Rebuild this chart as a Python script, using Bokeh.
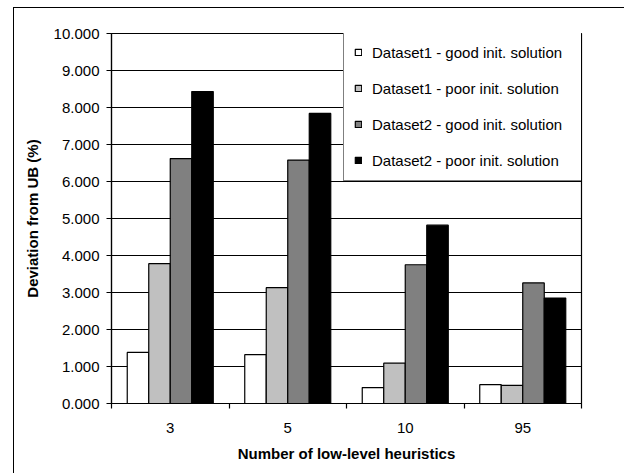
from bokeh.plotting import figure
from bokeh.layouts import column
from bokeh.models import (ColumnDataSource, Range1d, FixedTicker, Legend, LegendItem,
                          CustomJSTickFormatter)
from bokeh.embed import file_html
from bokeh.resources import INLINE

categories = ["3", "5", "10", "95"]
d1_good = [1.38, 1.32, 0.43, 0.51]
d1_poor = [3.78, 3.13, 1.09, 0.49]
d2_good = [6.62, 6.58, 3.75, 3.26]
d2_poor = [8.43, 7.84, 4.82, 2.85]
series_names = ["Dataset1 - good init. solution", "Dataset1 - poor init. solution",
                "Dataset2 - good init. solution", "Dataset2 - poor init. solution"]
series_values = [d1_good, d1_poor, d2_good, d2_poor]
colors = ["#FFFFFF", "#C0C0C0", "#808080", "#000000"]
y_ticks = [0, 1, 2, 3, 4, 5, 6, 7, 8, 9, 10]

FONT = "Liberation Sans"
n = len(categories)

p = figure(width=610, height=465, output_backend="svg", toolbar_location=None,
           x_range=Range1d(0, n), y_range=Range1d(0, 10),
           min_border_left=97, min_border_right=43, min_border_top=25, min_border_bottom=70,
           frame_width=470, frame_height=370)
p.background_fill_color = "white"
p.border_fill_color = "white"
p.outline_line_color = "black"
p.outline_line_width = 1.2

bar_w = 0.183
items = []
for k, (name, vals, col) in enumerate(zip(series_names, series_values, colors)):
    off = (k - 1.5) * bar_w
    src = ColumnDataSource(dict(x=[i + 0.5 + off for i in range(n)], top=vals))
    r = p.vbar(x="x", top="top", width=bar_w, bottom=0, source=src,
               fill_color=col, line_color="black", line_width=1.2)
    items.append(LegendItem(label=name, renderers=[r]))

# grid
p.xgrid.visible = False
p.ygrid.ticker = FixedTicker(ticks=y_ticks)
p.ygrid.grid_line_color = "black"
p.ygrid.grid_line_width = 1.2
p.ygrid.level = "underlay"

# y axis
p.yaxis.ticker = FixedTicker(ticks=y_ticks)
p.yaxis.formatter = CustomJSTickFormatter(code="return tick.toFixed(3);")
p.yaxis.axis_line_color = "black"
p.yaxis.axis_line_width = 1.2
p.yaxis.major_tick_out = 5
p.yaxis.major_tick_in = 0
p.yaxis.major_tick_line_color = "black"
p.yaxis.minor_tick_line_color = None
p.yaxis.major_label_standoff = 7
p.yaxis.major_label_text_font = FONT
p.yaxis.major_label_text_font_size = "15px"
p.yaxis.major_label_text_color = "black"
p.yaxis.axis_label = "Deviation from UB (%)"
p.yaxis.axis_label_text_font = FONT
p.yaxis.axis_label_text_font_style = "bold"
p.yaxis.axis_label_text_font_size = "15px"
p.yaxis.axis_label_text_color = "black"
p.yaxis.axis_label_standoff = 10

# x axis: labels at centers, ticks at boundaries
p.xaxis.ticker = FixedTicker(ticks=[i + 0.5 for i in range(n)],
                             minor_ticks=[i for i in range(n + 1)])
p.xaxis.major_label_overrides = {i + 0.5: c for i, c in enumerate(categories)}
p.xaxis.major_tick_line_color = None
p.xaxis.major_tick_out = 0
p.xaxis.major_tick_in = 0
p.xaxis.minor_tick_out = 5
p.xaxis.minor_tick_in = 0
p.xaxis.minor_tick_line_color = "black"
p.xaxis.minor_tick_line_width = 1.2
p.xaxis.axis_line_color = "black"
p.xaxis.axis_line_width = 1.2
p.xaxis.major_label_standoff = 14
p.xaxis.major_label_text_font = FONT
p.xaxis.major_label_text_font_size = "15px"
p.xaxis.major_label_text_color = "black"
p.xaxis.axis_label = "Number of low-level heuristics"
p.xaxis.axis_label_text_font = FONT
p.xaxis.axis_label_text_font_style = "bold"
p.xaxis.axis_label_text_font_size = "15px"
p.xaxis.axis_label_text_color = "black"
p.xaxis.axis_label_standoff = 9

legend = Legend(items=items, location=(232, 222))
legend.border_line_color = "black"
legend.border_line_width = 1.2
legend.background_fill_color = "white"
legend.background_fill_alpha = 1
legend.padding = 10
legend.spacing = 16
legend.margin = 0
legend.glyph_width = 8
legend.glyph_height = 8
legend.label_height = 20
legend.label_width = 199
legend.label_standoff = 10
legend.label_text_font = FONT
legend.label_text_font_size = "15px"
legend.label_text_color = "black"
p.add_layout(legend, "center")

# outer chart border: left and top edges at x=13, y=7
page = column(p, styles={"margin-left": "13px", "margin-top": "7px",
                         "border-left": "1px solid black", "border-top": "1px solid black",
                         "overflow": "hidden"})

open("out.html", "w").write(file_html(page, INLINE))
